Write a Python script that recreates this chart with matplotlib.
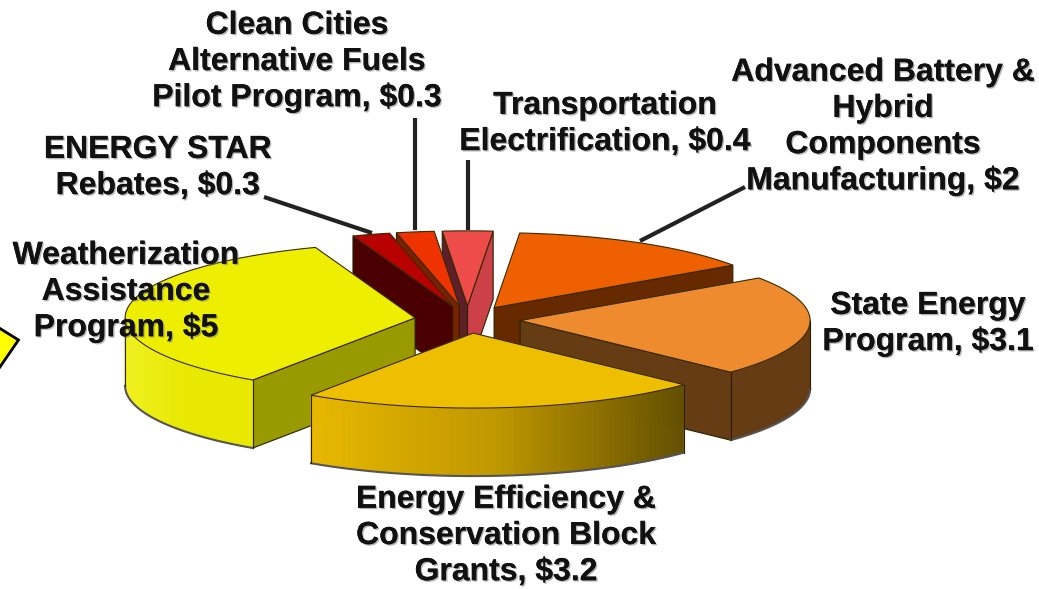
import numpy as np
import matplotlib
matplotlib.use('Agg')
import matplotlib.pyplot as plt
import matplotlib.patheffects as pe
from matplotlib.colors import LinearSegmentedColormap

names = ['Transportation\nElectrification', 'Advanced Battery &\nHybrid\nComponents\nManufacturing',
         'State Energy\nProgram', 'Energy Efficiency &\nConservation Block\nGrants',
         'Weatherization\nAssistance\nProgram', 'ENERGY STAR\nRebates',
         'Clean Cities\nAlternative Fuels\nPilot Program']
values = [0.4, 2, 3.1, 3.2, 5, 0.3, 0.3]

top_colors = ['#EE4B4B', '#EE6000', '#EE8B2E', '#EEBE00', '#EEEE00', '#B80000', '#EE3300']
left_walls = ['#5E2028', '#662900', '#663C14', '#645000', '#999900', '#4A0000', '#7A2200']
right_walls = ['#CC4048', '#662900', '#663C14', '#645000', '#999900', '#4A0000', '#7A2200']
arc_walls = [['#CC4048'], ['#662900'], ['#663C14'], ['#E8B800', '#C09800', '#645000'],
             ['#F0F020', '#E8E800', '#E8E800'], ['#4A0000'], ['#7A2200']]
label_pos = [(605, 124), (883, 127), (928, 324), (506, 536), (126, 292), (158, 168), (297, 62)]
draw_order = [0, 6, 5, 1, 2, 4, 3]

# pie geometry, angle clockwise from the far side
cx, cy = 467.5, 319.5
rx, ry = 290, 75
explode = 0.182
height = 68
start = -5


def outline(i, a, b, n=60):
    t = np.radians(np.linspace(a, b, n))
    return apex[i][0] + rx * np.sin(t), apex[i][1] - ry * np.cos(t)


def wall(xs, ys, color, edge=True):
    px = np.concatenate([xs, xs[::-1]])
    py = np.concatenate([ys, ys[::-1] + height])
    ax.fill(px, py, facecolor=color, edgecolor='#2a2000' if edge else color, lw=0.8 if edge else 0.6)


fig = plt.figure(figsize=(10.39, 5.89), dpi=100)
ax = fig.add_axes([0, 0, 1, 1])
ax.set_xlim(0, 1039)
ax.set_ylim(589, 0)
ax.axis('off')

sweeps = 360 * np.array(values) / sum(values)
ends = start + np.cumsum(sweeps)
starts = ends - sweeps
mids = np.radians((starts + ends) / 2)
apex = [(cx + explode * rx * np.sin(m), cy - explode * ry * np.cos(m)) for m in mids]

for i in draw_order:
    a, b = starts[i], ends[i]
    ax_, ay_ = apex[i]
    # straight walls, only those that face the viewer
    if np.cos(np.radians(a - 90)) < 0:
        x, y = outline(i, a, a, 1)
        wall(np.array([ax_, x[0]]), np.array([ay_, y[0]]), left_walls[i])
    if np.cos(np.radians(b + 90)) < 0:
        x, y = outline(i, b, b, 1)
        wall(np.array([ax_, x[0]]), np.array([ay_, y[0]]), right_walls[i])
    # outer wall on the near half of the rim, shaded in strips when it has a gradient
    low, high = max(a, 90), min(b, 270)
    if low < high:
        x, y = outline(i, low, high, 70)
        if len(arc_walls[i]) > 1:
            cmap = LinearSegmentedColormap.from_list('wall', arc_walls[i])
            for k in range(len(x) - 1):
                frac = (x[k] - x.min()) / (x.max() - x.min())
                wall(x[k:k + 2], y[k:k + 2], cmap(frac), edge=False)
        else:
            wall(x, y, arc_walls[i][0], edge=False)
        ax.plot(x, y + height, color='#555555', lw=1.5)
        ax.plot([x[0], x[0]], [y[0], y[0] + height], color='#2a2000', lw=0.8)
        ax.plot([x[-1], x[-1]], [y[-1], y[-1] + height], color='#2a2000', lw=0.8)
    x, y = outline(i, a, b)
    ax.fill(np.r_[ax_, x], np.r_[ay_, y], facecolor=top_colors[i], edgecolor='#3a2a00', lw=0.8)

# leader lines
leaders = [([264, 372], [197, 233]), ([415, 415], [118, 230]), ([468, 468], [160, 230]), ([745, 640], [187, 241])]
for lx, ly in leaders:
    ax.plot(lx, ly, color='#222222', lw=3, solid_capstyle='butt')

# yellow callout cut by the left edge
ax.fill([-20, 18.5, -20], [316, 340, 396], facecolor='#FFFF00', edgecolor='black', lw=2)

shadow = [pe.withSimplePatchShadow(offset=(1, -1), shadow_rgbFace='#777777', alpha=0.55), pe.Normal()]
for name, value, (tx, ty) in zip(names, values, label_pos):
    ax.text(tx, ty, f'{name}, ${value}', ha='center', va='center', multialignment='center',
            family='Liberation Sans', weight='bold', fontsize=23, color='#111111',
            linespacing=1.27, parse_math=False, path_effects=shadow, zorder=5)

fig.savefig('out.png', dpi=100)
